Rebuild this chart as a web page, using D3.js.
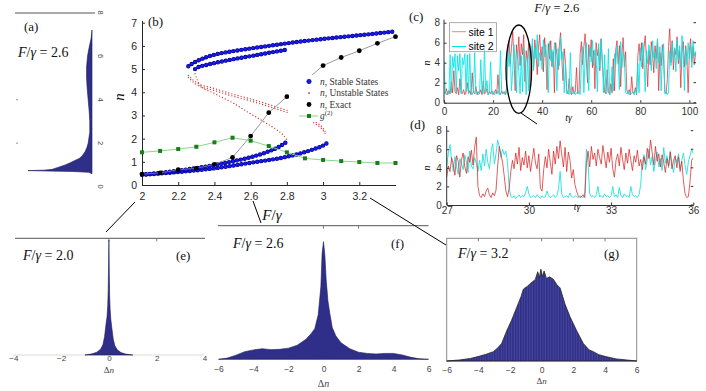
<!DOCTYPE html>
<html><head><meta charset="utf-8">
<script src="https://cdn.jsdelivr.net/npm/d3@7"></script>
<style>
body{margin:0;background:#fff;}
svg{display:block;}
text{font-weight:normal;}
</style></head><body>
<svg id="fig" width="706" height="391"></svg>
<script>
// ---------------- DATA ----------------
// panel (a): distribution of n at F/gamma = 2.6 (rotated histogram)
const histA_n = [0.60,0.66,0.70,0.72,0.74,0.76,0.80,0.90,1.00,1.10,1.20,1.30,1.40,1.60,1.80,2.00,2.50,3.00,3.50,4.00,4.50,5.00,5.50,6.00,6.40,6.80,7.20];
const histA_c = [0,0.05,0.30,0.70,1.00,0.75,0.62,0.52,0.42,0.34,0.27,0.20,0.16,0.11,0.08,0.06,0.035,0.035,0.045,0.06,0.075,0.085,0.085,0.07,0.045,0.015,0];
const aTicks = [0,2,4,6,8];

// panel (b): bifurcation diagram
const bTicksX = [2,2.2,2.4,2.6,2.8,3,3.2];
const bTicksY = [0,1,2,3,4,5,6,7];
const stA_F = [2.256,2.27,2.3,2.35,2.4,2.5,2.6,2.7,2.8,2.9,3.0,3.1,3.2,3.3,3.4];
const stA_n = [5.12,5.2,5.33,5.5,5.62,5.77,5.89,6.0,6.11,6.21,6.3,6.38,6.46,6.54,6.63];
const stB_F = [2.293,2.31,2.35,2.4,2.5,2.6,2.7,2.8];
const stB_n = [5.0,5.08,5.17,5.26,5.42,5.56,5.7,5.84];
const stC_F = [2.0,2.1,2.2,2.3,2.4,2.5,2.6,2.7,2.75,2.8];
const stC_n = [0.45,0.52,0.62,0.73,0.86,1.02,1.2,1.45,1.62,1.87];
const stD_F = [2.0,2.2,2.4,2.6,2.8,2.9,2.95,3.0,3.02];
const stD_n = [0.44,0.56,0.72,0.96,1.22,1.42,1.55,1.7,1.8];
const unA_F = [2.256,2.3,2.4,2.5,2.6,2.7,2.8,2.9,2.95,3.0,3.02];
const unA_n = [4.68,4.38,4.12,3.88,3.67,3.43,3.18,2.96,2.72,2.4,2.15];
const unB_F = [2.293,2.32,2.4,2.5,2.6,2.7,2.75,2.78,2.8];
const unB_n = [4.8,4.3,3.95,3.55,3.07,2.6,2.35,2.15,1.95];
const exF = [2.0,2.1,2.2,2.3,2.4,2.5,2.6,2.7,2.8,3.0,3.1,3.2,3.3,3.4];
const exN = [0.47,0.52,0.66,0.72,0.89,1.19,2.11,3.12,3.81,5.15,5.5,5.79,6.11,6.4];
const g2F = [2.0,2.1,2.2,2.3,2.4,2.5,2.6,2.7,2.8,2.9,3.0,3.1,3.2,3.3,3.4];
const g2V = [1.41,1.47,1.55,1.65,1.84,2.04,1.91,1.68,1.41,1.15,1.08,1.03,0.99,0.95,0.95];
const legendB = ["Stable States","Unstable States","Exact"];

// panel (c): time series, t = 0, 0.5, 1, ...
const cStep = 0.5;
const cTicksX = [0,20,40,60,80,100];
const cdTicksY = [0,2,4,6,8];
const site1C = [
1.0,0.9,1.4,0.8,1.2,0.9,2.1,1.0,3.2,1.1,
0.9,1.5,0.8,2.4,1.0,0.9,1.3,0.8,1.1,2.0,
0.9,1.2,0.8,3.0,1.0,0.9,1.6,0.8,1.1,0.9,
1.3,0.8,2.2,0.9,1.0,1.4,0.8,1.1,0.9,1.2,
0.8,1.0,1.3,0.9,2.8,1.0,0.8,1.2,0.9,1.1,
0.8,1.5,4.8,6.2,3.9,5.5,7.1,4.6,1.2,5.8,
4.4,6.6,3.7,5.9,4.8,6.8,2.1,5.2,4.1,6.0,
1.5,4.6,5.7,3.4,6.3,4.9,2.8,5.5,6.8,4.2,
5.6,3.1,6.5,4.7,1.3,5.9,4.4,6.2,3.6,5.1,
1.0,6.0,4.8,3.3,5.7,7.0,4.5,2.2,5.4,4.0,
1.2,0.9,2.4,1.0,0.8,1.6,0.9,1.1,3.5,0.9,
1.0,4.9,6.1,3.8,5.6,6.9,4.3,2.0,5.8,4.6,
6.3,3.5,5.2,1.4,6.0,4.7,5.5,3.2,6.4,4.1,
2.5,1.0,0.9,3.3,1.1,0.8,1.9,1.0,4.4,1.2,
5.3,6.2,3.9,5.7,1.6,4.8,6.5,3.6,5.1,1.3,
0.9,1.3,0.8,2.6,1.0,0.9,1.5,0.8,4.7,5.9,
4.2,6.0,3.4,5.5,6.7,4.5,1.6,5.2,3.8,6.1,
4.9,3.0,5.7,4.4,6.3,1.2,5.0,3.7,5.8,4.3,
1.1,0.9,2.3,5.6,7.4,4.0,6.2,3.3,5.4,4.8,
6.6,3.9,5.3,1.5,5.0,6.1,3.6,5.7,4.4,1.0,
5.2,6.4,4.1,5.6,3.8,5.0,4.5,5.3,4.0,5.1];
const site2C = [
4.2,1.0,0.8,1.1,0.9,4.8,1.0,4.6,3.5,4.9,
1.0,4.7,3.2,4.9,0.9,4.5,3.8,4.9,1.1,4.8,
0.9,4.9,1.0,0.8,1.2,5.0,0.9,1.1,0.8,1.0,
4.3,1.0,0.9,5.6,1.1,2.2,0.8,1.0,4.1,0.9,
1.1,0.8,1.0,0.9,1.2,0.8,5.2,1.0,0.9,1.1,
0.8,1.0,5.5,3.6,4.9,1.2,3.3,5.8,4.0,1.0,
5.2,3.1,0.9,4.7,1.1,5.6,3.8,0.8,4.5,1.2,
5.9,4.1,6.4,3.2,5.5,4.4,6.8,3.6,5.0,4.7,
3.3,6.3,4.6,5.8,3.9,1.0,6.1,4.2,5.3,3.5,
6.0,4.8,1.2,5.4,3.7,6.6,4.3,5.1,1.0,3.9,
0.9,1.1,0.8,5.0,1.0,0.9,1.2,0.8,1.0,0.9,
1.1,0.8,3.9,5.6,1.0,4.4,6.0,3.3,1.2,5.5,
4.1,6.2,3.7,5.3,4.6,1.1,5.9,3.5,6.3,4.2,
1.0,4.8,0.9,1.1,5.4,0.8,1.0,3.6,1.2,4.9,
3.8,5.7,4.4,1.3,6.1,3.5,5.0,4.6,1.0,0.9,
1.2,0.8,1.0,0.9,1.1,0.8,1.3,0.9,3.9,1.0,
5.5,3.6,6.0,4.3,1.1,5.2,3.9,5.8,4.7,3.2,
6.2,4.5,5.1,3.4,6.4,4.0,5.6,1.2,4.8,5.9,
0.9,1.1,0.8,1.0,5.2,3.7,6.1,4.4,5.5,3.1,
6.3,4.2,5.7,3.6,6.7,4.9,1.2,5.4,3.8,6.0,
4.4,5.8,3.5,6.2,4.7,5.1,3.9,5.6,4.3,5.0];

// panel (d): zoom t = 27 ... 36, step 0.06
const dStart = 27, dStep = 0.06;
const dTicksX = [27,30,33,36];
const site1D = [
3.0,4.2,3.6,5.1,4.4,3.2,5.3,4.7,3.0,4.9,
5.6,4.1,3.4,5.2,4.6,5.9,4.3,6.2,7.3,2.0,
1.0,0.8,1.2,0.9,1.5,1.8,1.1,0.8,1.3,1.0,
1.6,4.2,6.3,5.4,4.6,3.1,1.5,0.9,1.8,3.6,
4.8,3.9,5.6,4.4,6.2,3.7,5.1,4.3,5.8,4.0,
5.3,3.6,4.9,6.1,4.5,3.9,5.5,1.8,1.5,3.8,
5.2,4.0,6.0,4.6,3.3,5.8,4.4,6.3,5.0,6.9,
5.4,4.1,6.2,3.6,5.7,4.8,2.9,3.8,2.2,1.5,
1.0,0.8,0.9,1.1,0.8,4.6,5.8,4.1,6.3,4.9,
5.6,4.2,6.0,5.1,4.4,6.4,5.2,4.0,5.7,4.6,
6.1,3.9,3.0,4.8,5.5,4.2,6.2,4.9,3.8,5.6,
4.5,6.0,4.8,3.7,5.3,4.6,5.9,4.2,4.9,3.8,
5.2,4.4,6.1,5.0,7.0,5.6,4.3,6.3,4.7,5.5,
4.1,5.4,4.6,3.5,5.0,4.2,5.7,3.9,4.8,5.3,
4.0,5.2,3.6,4.7,2.6,1.2,0.8,0.9,2.5,4.8,
5.1];
const site2D = [
4.0,5.6,6.5,4.8,3.6,5.2,4.1,3.3,5.0,4.4,
3.8,5.4,4.6,3.5,5.8,4.2,3.9,5.1,4.5,3.6,
4.8,3.7,5.5,4.2,6.0,4.6,3.9,5.7,6.6,4.4,
5.5,7.0,6.2,5.1,6.0,5.4,5.8,4.6,1.8,0.9,
0.8,1.0,0.7,0.9,1.1,0.8,1.0,0.9,1.3,2.0,
1.2,0.8,0.9,1.0,0.8,1.1,0.9,0.7,1.0,0.8,
0.9,1.5,1.0,0.8,0.9,1.1,0.8,1.0,1.7,3.6,
1.2,0.8,0.9,1.0,0.8,1.3,0.9,0.8,1.0,0.9,
0.8,1.0,0.9,0.8,1.1,6.0,4.4,1.2,0.9,1.0,
0.8,1.1,2.0,0.9,1.0,0.8,1.2,0.9,1.0,0.8,
1.0,2.0,0.9,1.1,0.8,1.9,1.0,0.8,1.2,0.9,
1.0,0.8,2.0,1.1,0.9,1.0,0.8,1.1,2.2,4.6,
5.4,3.8,4.9,6.0,4.3,5.2,3.6,4.8,5.7,4.1,
5.0,3.7,6.2,4.5,5.3,4.0,5.8,4.4,3.5,5.1,
4.6,5.5,3.9,4.8,5.6,4.2,3.3,4.6,5.3,6.0,
5.5];

// panels (e),(f),(g): histograms of Delta n
const hE_dn = [-1.0,-0.7,-0.5,-0.35,-0.25,-0.18,-0.12,-0.08,-0.05,-0.03,-0.015,0,0.015,0.03,0.05,0.08,0.12,0.18,0.25,0.35,0.5,0.7,1.0];
const hE_c  = [0,0.01,0.025,0.05,0.09,0.16,0.27,0.33,0.42,0.55,0.75,1.0,0.74,0.52,0.4,0.31,0.24,0.14,0.08,0.045,0.022,0.008,0];
const hF_dn = [-6,-5.5,-5,-4.5,-4,-3.5,-3,-2.5,-2,-1.5,-1,-0.7,-0.5,-0.3,-0.15,-0.08,0,0.08,0.15,0.25,0.35,0.5,0.7,1,1.5,2,2.5,3,3.5,4,4.5,5,5.5,6];
const hF_c  = [0,0.01,0.035,0.065,0.08,0.09,0.082,0.085,0.095,0.12,0.17,0.22,0.26,0.38,0.62,0.9,1.0,0.88,0.68,0.5,0.4,0.27,0.2,0.14,0.09,0.06,0.05,0.045,0.05,0.05,0.037,0.017,0.004,0];
const hG_dn = [-6,-5.2,-4.5,-3.9,-3.5,-3.05,-2.8,-2.53,-2.2,-1.9,-1.58,-1.3,-1.16,-0.9,-0.6,-0.4,-0.25,-0.15,-0.05,0.05,0.15,0.3,0.5,0.74,0.95,1.16,1.47,1.79,2.2,2.63,3.0,3.26,3.6,4.1,4.7,5.37,6];
const hG_c  = [0,0.012,0.03,0.058,0.08,0.11,0.15,0.205,0.36,0.48,0.63,0.76,0.845,0.88,0.93,0.96,1.05,0.98,1.08,0.99,1.06,0.97,0.99,0.96,0.9,0.86,0.67,0.52,0.36,0.205,0.13,0.11,0.075,0.05,0.025,0.012,0];
const ticksE = [-4,-2,0,2,4];
const ticksFG = [-6,-4,-2,0,2,4,6];
const panelF = ["2.6","2.0","2.6","3.2"];

// ---------------- DRAW ----------------
const svg = d3.select("#fig");
const SERIF = "Liberation Serif";
const SANS = "Liberation Sans";
const HIST = "#2f2f8a", HISTE = "#1b1b55";

function mtext(g, x, y, parts, size, anchor) {
  const t = g.append("text").attr("x", x).attr("y", y).attr("font-family", SERIF)
    .attr("font-size", size).attr("font-weight", "normal").attr("text-anchor", anchor || "start").attr("fill", "#111");
  parts.forEach(p => t.append("tspan").attr("font-style", p[1] ? "italic" : "normal").text(p[0]));
  return t;
}
function fEq(v) { return [["F", 1], ["/", 0], ["γ", 1], [" = " + v, 0]]; }
function styleAxis(g, col, fs) {
  g.attr("font-family", SANS).attr("font-size", fs);
  g.select(".domain").attr("stroke", col);
  g.selectAll(".tick line").attr("stroke", col);
  g.selectAll(".tick text").attr("fill", col);
}
const fmt = d3.format("~g");

// ---- panel (a)
{
  const g = svg.append("g");
  const yA = d3.scaleLinear().domain([0, 8]).range([186.7, 12.7]);
  const wA = d3.scaleLinear().domain([0, 1]).range([0, 64]);
  const base = 92;
  g.append("line").attr("x1", 15).attr("x2", 95).attr("y1", 13).attr("y2", 13).attr("stroke", "#555");
  const area = d3.area().curve(d3.curveLinear)
    .y(d => yA(d[0])).x0(base).x1(d => base - wA(d[1]));
  g.append("path").datum(d3.zip(histA_n, histA_c)).attr("d", area)
    .attr("fill", HIST).attr("stroke", HISTE).attr("stroke-width", 0.6);
  aTicks.forEach(v => {
    g.append("text").attr("transform", `translate(98,${yA(v)}) rotate(90)`)
      .attr("text-anchor", "middle").attr("font-family", SANS).attr("font-size", 7.5)
      .attr("fill", "#444").text(v);
  });
  [2, 4].forEach(v => g.append("line").attr("x1", 16).attr("x2", 18).attr("y1", yA(v)).attr("y2", yA(v)).attr("stroke", "#999"));
  mtext(g, 24, 31, [["(a)", 0]], 13);
  mtext(g, 18, 57, fEq(panelF[0]), 14);
}

// ---- panel (b)
{
  const g = svg.append("g");
  const xB = d3.scaleLinear().domain([2, 3.4]).range([142, 395.5]);
  const yB = d3.scaleLinear().domain([0, 7.1]).range([185, 20.4]);
  const ax = g.append("g").attr("transform", "translate(0,185)")
    .call(d3.axisBottom(xB).tickValues(bTicksX).tickSizeInner(-3).tickSizeOuter(0).tickPadding(8).tickFormat(fmt));
  styleAxis(ax, "#262626", 10.5);
  const ay = g.append("g").attr("transform", "translate(142,0)")
    .call(d3.axisLeft(yB).tickValues(bTicksY).tickSizeInner(-3).tickSizeOuter(0).tickPadding(5).tickFormat(fmt));
  styleAxis(ay, "#262626", 10.5);

  const line = d3.line().x(d => xB(d[0])).y(d => yB(d[1])).curve(d3.curveMonotoneX);
  const red = (data, dy) => g.append("path").datum(data).attr("d", line).attr("transform", `translate(0,${dy})`)
    .attr("fill", "none").attr("stroke", "#cf3b3b").attr("stroke-width", 1.4)
    .attr("stroke-linecap", "round").attr("stroke-dasharray", "0 3.2");
  red(d3.zip(unA_F, unA_n), -1); red(d3.zip(unA_F, unA_n), 1);
  red(d3.zip(unB_F, unB_n), 0);
  [[stD_F, stD_n], [stC_F, stC_n], [stB_F, stB_n], [stA_F, stA_n]].forEach(([f, n]) => {
    const dat = d3.zip(f, n);
    g.append("path").datum(dat).attr("d", line).attr("fill", "none").attr("stroke", "#00007a")
      .attr("stroke-width", 4.4).attr("stroke-linecap", "round").attr("stroke-dasharray", "0 4");
    g.append("path").datum(dat).attr("d", line).attr("fill", "none").attr("stroke", "#1818f2")
      .attr("stroke-width", 3.3).attr("stroke-linecap", "round").attr("stroke-dasharray", "0 4");
  });
  const lin = d3.line().x(d => xB(d[0])).y(d => yB(d[1]));
  g.append("path").datum(d3.zip(exF, exN)).attr("d", lin).attr("fill", "none").attr("stroke", "#808080").attr("stroke-width", 0.8);
  g.selectAll(".ex").data(d3.zip(exF, exN)).join("circle").attr("cx", d => xB(d[0])).attr("cy", d => yB(d[1]))
    .attr("r", 2.4).attr("fill", "#000");
  g.append("path").datum(d3.zip(g2F, g2V)).attr("d", lin).attr("fill", "none").attr("stroke", "#8ad68a").attr("stroke-width", 1);
  g.selectAll(".g2").data(d3.zip(g2F, g2V)).join("rect").attr("x", d => xB(d[0]) - 2).attr("y", d => yB(d[1]) - 2)
    .attr("width", 4).attr("height", 4).attr("fill", "#1a7d1a");
  // legend
  const L = g.append("g");
  L.append("rect").attr("x", 289).attr("y", 75).attr("width", 112).attr("height", 47).attr("fill", "#fff");
  const ly = [81.5, 93, 104.5, 116];
  L.append("circle").attr("cx", 309).attr("cy", ly[0]).attr("r", 2.2).attr("fill", "#1818f2").attr("stroke", "#00007a").attr("stroke-width", 0.6);
  L.append("circle").attr("cx", 309).attr("cy", ly[1]).attr("r", 0.9).attr("fill", "#cf3b3b");
  L.append("circle").attr("cx", 309).attr("cy", ly[2]).attr("r", 2.4).attr("fill", "#000");
  L.append("line").attr("x1", 299).attr("x2", 318).attr("y1", ly[3]).attr("y2", ly[3]).attr("stroke", "#8ad68a");
  L.append("rect").attr("x", 307).attr("y", ly[3] - 2).attr("width", 4).attr("height", 4).attr("fill", "#1a7d1a");
  legendB.forEach((s, i) => mtext(L, 320, ly[i] + 3, [["n", 1], [", " + s, 0]], 9.5).attr("fill", "#333"));
  const gt = mtext(L, 320, ly[3] + 3, [["g", 1]], 9.5).attr("fill", "#333");
  gt.append("tspan").attr("font-size", 6.5).attr("dy", -4).text("(2)");

  mtext(g, 148, 26, [["(b)", 0]], 13);
  mtext(g, 0, 0, [["n", 1]], 15, "middle").attr("transform", "translate(124,97) rotate(-90)");
  mtext(g, 272, 220, [["F", 1], ["/", 0], ["γ", 1]], 15, "middle");
}

// ---- panel (c)
{
  const g = svg.append("g");
  const xC = d3.scaleLinear().domain([0, 102.7]).range([444, 696]);
  const yC = d3.scaleLinear().domain([0, 8.3]).range([102.7, 19.7]);
  svg.append("clipPath").attr("id", "clipC").append("rect").attr("x", 444).attr("y", 19.7).attr("width", 252).attr("height", 83);
  const tC = d3.range(site1C.length).map(i => i * cStep);
  const line = d3.line().x(d => xC(d[0])).y(d => yC(d[1]));
  const pg = g.append("g").attr("clip-path", "url(#clipC)");
  pg.append("path").datum(d3.zip(tC, site1C)).attr("d", line).attr("fill", "none").attr("stroke", "#e0262b").attr("stroke-width", 0.9).attr("stroke-opacity", 0.8);
  pg.append("path").datum(d3.zip(tC, site2C)).attr("d", line).attr("fill", "none").attr("stroke", "#00e5e5").attr("stroke-width", 1).attr("stroke-opacity", 0.85);
  const ax = g.append("g").attr("transform", "translate(0,102.7)")
    .call(d3.axisBottom(xC).tickValues(cTicksX).tickSizeInner(-2.5).tickSizeOuter(0).tickPadding(5).tickFormat(fmt));
  styleAxis(ax, "#333", 10);
  const ay = g.append("g").attr("transform", "translate(444,0)")
    .call(d3.axisLeft(yC).tickValues(cdTicksY).tickSizeInner(-2.5).tickSizeOuter(0).tickPadding(4).tickFormat(fmt));
  styleAxis(ay, "#333", 10);
  ay.select(".domain").attr("d", `M0,${yC(0)}V19.7`);
  cdTicksY.forEach(v => g.append("line").attr("x1", 693.5).attr("x2", 696).attr("y1", yC(v)).attr("y2", yC(v)).attr("stroke", "#333"));
  // legend
  g.append("rect").attr("x", 449.5).attr("y", 22.7).attr("width", 47).attr("height", 29).attr("fill", "#fff").attr("fill-opacity", 0.6).attr("stroke", "#999").attr("stroke-width", 0.8);
  g.append("line").attr("x1", 452).attr("x2", 466).attr("y1", 31.7).attr("y2", 31.7).attr("stroke", "#f08080");
  g.append("line").attr("x1", 452).attr("x2", 466).attr("y1", 46.5).attr("y2", 46.5).attr("stroke", "#00e5e5");
  g.append("text").attr("x", 468.5).attr("y", 35.5).attr("font-family", SANS).attr("font-size", 10.5).text("site 1");
  g.append("text").attr("x", 468.5).attr("y", 50.3).attr("font-family", SANS).attr("font-size", 10.5).text("site 2");
  g.append("ellipse").attr("cx", 518.8).attr("cy", 69.2).attr("rx", 12.8).attr("ry", 44.2).attr("fill", "none").attr("stroke", "#000").attr("stroke-width", 1.3);
  g.append("line").attr("x1", 521).attr("y1", 113).attr("x2", 537).attr("y2", 124).attr("stroke", "#000").attr("stroke-width", 1);
  mtext(g, 556.7, 11.5, fEq(panelF[0]), 12.5, "middle");
  mtext(g, 409, 21, [["(c)", 0]], 13);
  mtext(g, 0, 0, [["n", 1]], 10, "middle").attr("transform", "translate(430,63) rotate(-90)");
  mtext(g, 568.5, 120.5, [["t", 1], ["γ", 1]], 10, "middle");
}

// ---- panel (d)
{
  const g = svg.append("g");
  const xD = d3.scaleLinear().domain([27, 36]).range([446.7, 693.3]);
  const yD = d3.scaleLinear().domain([0, 8.5]).range([205, 126]);
  svg.append("clipPath").attr("id", "clipD").append("rect").attr("x", 446.7).attr("y", 126).attr("width", 246.6).attr("height", 79);
  const tD = d3.range(site1D.length).map(i => dStart + i * dStep);
  const line = d3.line().x(d => xD(d[0])).y(d => yD(d[1]));
  const pg = g.append("g").attr("clip-path", "url(#clipD)");
  pg.append("path").datum(d3.zip(tD, site2D)).attr("d", line).attr("fill", "none").attr("stroke", "#22e0e0").attr("stroke-width", 0.9);
  pg.append("path").datum(d3.zip(tD, site1D)).attr("d", line).attr("fill", "none").attr("stroke", "#d81e1e").attr("stroke-width", 0.9).attr("stroke-opacity", 0.8);
  const ax = g.append("g").attr("transform", "translate(0,205)")
    .call(d3.axisBottom(xD).tickValues(dTicksX).tickSizeInner(-2.5).tickSizeOuter(0).tickPadding(2).tickFormat(fmt));
  styleAxis(ax, "#333", 10);
  const ay = g.append("g").attr("transform", "translate(446.7,0)")
    .call(d3.axisLeft(yD).tickValues(cdTicksY).tickSizeInner(-2.5).tickSizeOuter(0).tickPadding(5).tickFormat(fmt));
  styleAxis(ay, "#333", 10);
  ay.select(".domain").attr("d", `M0,205V126`);
  cdTicksY.forEach(v => g.append("line").attr("x1", 690.8).attr("x2", 693.3).attr("y1", yD(v)).attr("y2", yD(v)).attr("stroke", "#333"));
  mtext(g, 410, 129, [["(d)", 0]], 13);
  mtext(g, 0, 0, [["n", 1]], 10, "middle").attr("transform", "translate(430,168) rotate(-90)");
  mtext(g, 577, 210, [["t", 1], ["γ", 1]], 10, "middle");
}

// ---- histogram panels
function histPanel(cfg) {
  const g = svg.append("g");
  const x = d3.scaleLinear().domain(cfg.dom).range(cfg.xr);
  const y = d3.scaleLinear().domain([0, 1]).range([cfg.base, cfg.top1]);
  if (cfg.box) {
    g.append("rect").attr("x", cfg.xr[0]).attr("y", cfg.boxTop).attr("width", cfg.xr[1] - cfg.xr[0])
      .attr("height", cfg.base - cfg.boxTop).attr("fill", "none").attr("stroke", "#8a8a8a");
  } else {
    g.append("line").attr("x1", cfg.lineX[0]).attr("x2", cfg.lineX[1]).attr("y1", cfg.boxTop).attr("y2", cfg.boxTop).attr("stroke", "#555");
    g.append("line").attr("x1", cfg.xr[0]).attr("x2", cfg.xr[1]).attr("y1", cfg.base).attr("y2", cfg.base).attr("stroke", "#cfcfcf").attr("stroke-width", 0.8);
  }
  cfg.topTicks.forEach(v => g.append("line").attr("x1", x(v)).attr("x2", x(v)).attr("y1", cfg.boxTop).attr("y2", cfg.boxTop + 3).attr("stroke", "#777"));
  const area = d3.area().x(d => x(d[0])).y0(cfg.base).y1(d => y(d[1]));
  g.append("path").datum(d3.zip(cfg.dn, cfg.c)).attr("d", area)
    .attr("fill", cfg.fill || HIST).attr("stroke", cfg.edge || HISTE).attr("stroke-width", cfg.ew || 0.6);
  const ax = g.append("g").attr("transform", `translate(0,${cfg.base})`)
    .call(d3.axisBottom(x).tickValues(cfg.ticks).tickSize(0).tickPadding(cfg.pad).tickFormat(fmt));
  styleAxis(ax, "#444", cfg.tfs || 8.5);
  ax.select(".domain").remove();
  mtext(g, x(0), cfg.dnY, [["Δ", 0], ["n", 1]], cfg.dfs || 10, "middle").attr("fill", "#444");
  mtext(g, cfg.fx, cfg.fy, fEq(cfg.fv), 14);
  mtext(g, cfg.lx, cfg.fy, [[cfg.label, 0]], 13);
}
const defs = svg.append("defs");
const pat = defs.append("pattern").attr("id", "stripes").attr("patternUnits", "userSpaceOnUse").attr("width", 2.6).attr("height", 10);
pat.append("rect").attr("width", 2.6).attr("height", 10).attr("fill", HIST);
pat.append("line").attr("x1", 2).attr("x2", 2).attr("y1", 0).attr("y2", 10).attr("stroke", "#5a5aaa").attr("stroke-width", 0.6);

histPanel({dom: [-4, 4], xr: [13.3, 204.5], base: 355, top1: 240, boxTop: 238.3, lineX: [15, 205],
  topTicks: [0, 2], dn: hE_dn, c: hE_c, ticks: ticksE, pad: 0.5, tfs: 8, dnY: 373, dfs: 9, fx: 23, fy: 260, fv: panelF[1], lx: 176, label: "(e)"});
histPanel({dom: [-6, 6], xr: [218.5, 428.5], base: 359.3, top1: 241.7, boxTop: 225.7, lineX: [218, 428.5],
  topTicks: [0, 2], dn: hF_dn, c: hF_c, ticks: ticksFG, pad: 6.5, dnY: 387, fx: 233, fy: 248, fv: panelF[2], lx: 391, label: "(f)"});
histPanel({dom: [-6, 6], xr: [446.7, 636.7], base: 361, top1: 276, boxTop: 238.3, box: true,
  topTicks: [-4, -2, 0, 2, 4], dn: hG_dn, c: hG_c, ticks: ticksFG, pad: 5.5, dnY: 384, dfs: 9, fx: 458, fy: 258, fv: panelF[3], lx: 604, label: "(g)",
  fill: "url(#stripes)", edge: "#222", ew: 0.8});

[[135, 202, 106, 232], [253, 201, 261, 223], [370, 198, 446, 245]].forEach(l =>
  svg.append("line").attr("x1", l[0]).attr("y1", l[1]).attr("x2", l[2]).attr("y2", l[3]).attr("stroke", "#000").attr("stroke-width", 1));
</script>
</body></html>
